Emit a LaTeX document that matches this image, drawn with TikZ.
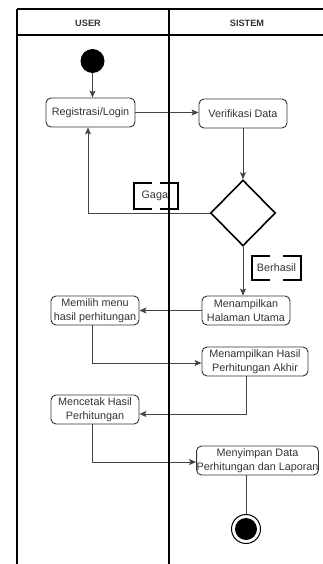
\documentclass[tikz,border=0pt]{standalone}
\usepackage{fontspec}
\setmainfont{Liberation Sans}
\usetikzlibrary{shapes.geometric,arrows.meta}
\definecolor{txt}{HTML}{333333}
\definecolor{edge}{HTML}{444444}
\begin{document}
\begin{tikzpicture}[x=1pt,y=-1pt,
  act/.style={draw=txt,line width=0.9pt,rounded corners=5pt,text=txt,align=center,
    inner sep=0pt,font=\fontsize{10.8}{13.5}\selectfont},
  flow/.style={draw=edge,line width=0.9pt,-{Stealth[length=7pt,width=6pt,inset=1.5pt]}},
  plain/.style={draw=edge,line width=0.9pt},
  lane/.style={draw=black,line width=1.4pt},
  lbl/.style={text=txt,inner sep=0pt,font=\fontsize{10.8}{13}\selectfont},
  hdr/.style={text=txt,font=\fontsize{9.2}{11}\selectfont\bfseries}]
\useasboundingbox (0,0) rectangle (323,564);
% nodes
\node[hdr] (huser) at (88,23) {USER};
\node[hdr] (hsis) at (247,23) {SISTEM};
\node[circle,fill=black,minimum size=24pt,inner sep=0pt] (start) at (92.5,61) {};
\node[act,minimum width=89pt,minimum height=29pt] (reg) at (90.5,112.5) {Registrasi/Login};
\node[act,minimum width=88pt,minimum height=29pt] (ver) at (243,113.5) {Verifikasi Data};
\node[diamond,draw=black,line width=1.6pt,minimum width=65pt,minimum height=66pt,inner sep=0pt] (dia) at (243,213) {};
\node[act,minimum width=88pt,minimum height=29pt] (hal) at (246,310.5) {Menampilkan\\Halaman Utama};
\node[act,minimum width=88pt,minimum height=29pt] (mem) at (95,310.5) {Memilih menu\\hasil perhitungan};
\node[act,minimum width=106pt,minimum height=29pt] (has) at (255,361.5) {Menampilkan Hasil\\Perhitungan Akhir};
\node[act,minimum width=88pt,minimum height=29pt] (cet) at (95,409.5) {Mencetak Hasil\\Perhitungan};
\node[act,minimum width=117pt,minimum height=29pt] (sim) at (257.5,460.5) {Menyimpan Data\\Perhitungan dan Laporan};
\node[circle,draw=black,line width=1pt,minimum size=29pt,inner sep=0pt] (fin) at (246,529) {};
\node[circle,fill=black,minimum size=22pt,inner sep=0pt] (finin) at (fin.center) {};
% labels with bracket borders
\node[lbl,minimum width=44pt,minimum height=26pt] (gagal) at (156,196) {Gagal};
\node[lbl,minimum width=49pt,minimum height=24pt] (berhasil) at (276.5,268) {Berhasil};
\foreach \n in {gagal,berhasil}{
  \draw[black,line width=1.5pt] ([xshift=18pt]\n.north west) -- (\n.north west) -- (\n.south west) -- ([xshift=18pt]\n.south west);
  \draw[black,line width=1.5pt] ([xshift=-18pt]\n.north east) -- (\n.north east) -- (\n.south east) -- ([xshift=-18pt]\n.south east);
}
% connectors
\coordinate (g1) at (88,213);
\coordinate (m1) at (92,363);
\coordinate (h1) at (246,414);
\coordinate (c1) at (92,462);
\draw[flow] (start) -- (start |- reg.north);
\draw[flow] (reg.east) -- (reg.east -| ver.west);
\draw[flow] (ver.south) -- (dia.north);
\draw[flow] (dia.west) -- (g1) -- (g1 |- reg.south);
\draw[flow] (dia.south) -- (dia.south |- hal.north);
\draw[flow] (hal.west) -- (hal.west -| mem.east);
\draw[flow] (m1 |- mem.south) -- (m1) -- (m1 -| has.west);
\draw[flow] (h1 |- has.south) -- (h1) -- (h1 -| cet.east);
\draw[flow] (c1 |- cet.south) -- (c1) -- (c1 -| sim.west);
\draw[plain] (fin |- sim.south) -- (fin.north);
% swimlane frame
\coordinate (tl) at (17,9);
\coordinate (tm) at (169,9);
\coordinate (tr) at (323,9);
\coordinate (hl) at (17,35);
\coordinate (hr) at (323,35);
\coordinate (bl) at (17,564);
\coordinate (bm) at (169,564);
\draw[lane] (tl) -- (tr);
\draw[lane] (hl) -- (hr);
\draw[lane] (tl) -- (bl);
\draw[lane] (tm) -- (bm);
\end{tikzpicture}
\end{document}
